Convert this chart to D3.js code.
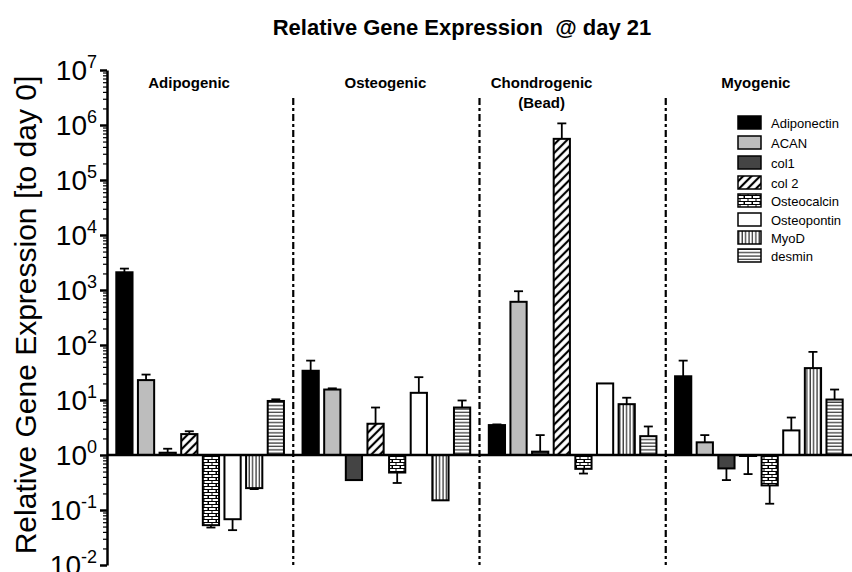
<!DOCTYPE html>
<html>
<head>
<meta charset="utf-8">
<script src="https://cdn.jsdelivr.net/npm/d3@7"></script>
<style>
body { margin: 0; background: #fff; }
text { font-family: "Liberation Sans", Arial, sans-serif; }
</style>
</head>
<body>
<svg id="chart" width="852" height="572"></svg>
<script>
// relative gene expression at day 21, grouped by differentiation medium
var groups = ['Adipogenic', 'Osteogenic', 'Chondrogenic', 'Myogenic']
var genes = ['Adiponectin', 'ACAN', 'col1', 'col 2', 'Osteocalcin', 'Osteopontin', 'MyoD', 'desmin']

// mean values, one array per group, in gene order
var adipogenic = [2100, 23, 1.1, 2.4, 0.053, 0.068, 0.25, 9.6]
var osteogenic = [34, 15.5, 0.35, 3.7, 0.48, 13.5, 0.15, 7.3]
var chondrogenic = [3.5, 610, 1.15, 560000, 0.56, 20, 8.4, 2.2]
var myogenic = [27, 1.7, 0.57, 0.96, 0.28, 2.8, 38, 10.2]

// end of the error bar (above for up, below for down), null = no bar
var adipogenicErr = [2450, 29, 1.3, 2.7, 0.048, 0.043, 0.24, 10.3]
var osteogenicErr = [52, 16.3, null, 7.3, 0.31, 26, null, 9.8]
var chondrogenicErr = [3.6, 950, 2.3, 1070000, 0.46, null, 11, 3.3]
var myogenicErr = [52, 2.3, 0.35, 0.45, 0.13, 4.8, 75, 15.5]

var values = [adipogenic, osteogenic, chondrogenic, myogenic]
var errors = [adipogenicErr, osteogenicErr, chondrogenicErr, myogenicErr]

var svg = d3.select('#chart')
var plotLeft = 107
var plotRight = 852
var plotTop = 70
var plotBottom = 565

var y = d3.scaleLog().domain([1e-2, 1e7]).range([plotBottom, plotTop])
var x0 = d3.scaleBand().domain(groups).range([plotLeft, plotRight])
var x1 = d3.scaleBand().domain(genes).range([0, x0.bandwidth()])
  .paddingInner(0.25).paddingOuter(0.43)

// fills and patterns
var defs = svg.append('defs')
var hatch = defs.append('pattern').attr('id', 'diag')
  .attr('patternUnits', 'userSpaceOnUse').attr('width', 6).attr('height', 6)
  .attr('patternTransform', 'rotate(45)')
hatch.append('rect').attr('width', 6).attr('height', 6).attr('fill', '#fff')
hatch.append('line').attr('x1', 2).attr('x2', 2).attr('y1', 0).attr('y2', 6)
  .attr('stroke', '#000').attr('stroke-width', 2.2)

var vert = defs.append('pattern').attr('id', 'vert')
  .attr('patternUnits', 'userSpaceOnUse').attr('width', 3.4).attr('height', 4)
vert.append('rect').attr('width', 3.4).attr('height', 4).attr('fill', '#fff')
vert.append('line').attr('x1', 1).attr('x2', 1).attr('y1', 0).attr('y2', 4)
  .attr('stroke', '#000').attr('stroke-width', 1)

var horiz = defs.append('pattern').attr('id', 'horiz')
  .attr('patternUnits', 'userSpaceOnUse').attr('width', 4).attr('height', 3.4)
horiz.append('rect').attr('width', 4).attr('height', 3.4).attr('fill', '#fff')
horiz.append('line').attr('x1', 0).attr('x2', 4).attr('y1', 1).attr('y2', 1)
  .attr('stroke', '#000').attr('stroke-width', 1)

var brick = defs.append('pattern').attr('id', 'brick')
  .attr('patternUnits', 'userSpaceOnUse').attr('width', 8).attr('height', 6)
brick.append('rect').attr('width', 8).attr('height', 6).attr('fill', '#fff')
brick.append('path').attr('d', 'M0,0.5H8M0,3.5H8M4,0.5V3.5M0.5,3.5V6.5M8,3.5V6.5')
  .attr('stroke', '#000').attr('stroke-width', 1).attr('fill', 'none')

var fills = {
  'Adiponectin': '#000',
  'ACAN': '#bdbdbd',
  'col1': '#444',
  'col 2': 'url(#diag)',
  'Osteocalcin': 'url(#brick)',
  'Osteopontin': '#fff',
  'MyoD': 'url(#vert)',
  'desmin': 'url(#horiz)'
}

// title
svg.append('text').attr('x', 462).attr('y', 35)
  .attr('text-anchor', 'middle').style('font-size', '22px').style('font-weight', 'bold')
  .style('white-space', 'pre')
  .text('Relative Gene Expression  @ day 21')

// group headings (chondrogenic sits left of center because of the legend)
var headingShift = { 'Adipogenic': -11, 'Osteogenic': -1, 'Chondrogenic': -31, 'Myogenic': -3 }
groups.forEach(function (g) {
  var cx = x0(g) + x0.bandwidth() / 2 + headingShift[g]
  svg.append('text').attr('x', cx).attr('y', 88)
    .attr('text-anchor', 'middle').style('font-size', '15px').style('font-weight', 'bold')
    .text(g)
})
svg.append('text')
  .attr('x', x0('Chondrogenic') + x0.bandwidth() / 2 + headingShift['Chondrogenic'])
  .attr('y', 108).attr('text-anchor', 'middle')
  .style('font-size', '15px').style('font-weight', 'bold').text('(Bead)')

// dash-dot dividers between groups
groups.slice(1).forEach(function (g) {
  svg.append('line').attr('x1', x0(g)).attr('x2', x0(g))
    .attr('y1', 98).attr('y2', plotBottom)
    .attr('stroke', '#000').attr('stroke-width', 2.2)
    .attr('stroke-dasharray', '7,3,3,3')
})

// bars with one-sided error bars
groups.forEach(function (g, gi) {
  var gx = x0(g)
  genes.forEach(function (gene, i) {
    var v = values[gi][i]
    var e = errors[gi][i]
    var bx = gx + x1(gene)
    var w = x1.bandwidth()
    var y1 = y(1)
    var yv = y(v)
    if (e !== null) {
      var ye = y(e)
      svg.append('line').attr('x1', bx + w / 2).attr('x2', bx + w / 2)
        .attr('y1', yv).attr('y2', ye).attr('stroke', '#000').attr('stroke-width', 1.8)
      svg.append('line').attr('x1', bx + w / 2 - 4.5).attr('x2', bx + w / 2 + 4.5)
        .attr('y1', ye).attr('y2', ye).attr('stroke', '#000').attr('stroke-width', 1.8)
    }
    svg.append('rect')
      .attr('x', bx).attr('width', w)
      .attr('y', Math.min(y1, yv)).attr('height', Math.abs(y1 - yv))
      .attr('fill', fills[gene]).attr('stroke', '#000').attr('stroke-width', 2)
  })
})

// baseline at 10^0
svg.append('line').attr('x1', plotLeft).attr('x2', plotRight)
  .attr('y1', y(1)).attr('y2', y(1)).attr('stroke', '#000').attr('stroke-width', 2.5)

// y axis: minor ticks, then major ticks with superscript labels
var minor = []
for (var p = -2; p < 7; p++) {
  for (var m = 2; m < 10; m++) minor.push(m * Math.pow(10, p))
}
var majors = d3.range(-2, 8)

svg.append('g').attr('transform', 'translate(' + plotLeft + ',0)')
  .call(d3.axisLeft(y).tickValues(minor).tickSize(4).tickFormat(''))
  .call(function (a) {
    a.select('.domain').remove()
    a.selectAll('line').attr('stroke-width', 1.2)
  })

var yAxis = svg.append('g').attr('transform', 'translate(' + plotLeft + ',0)')
  .call(d3.axisLeft(y).tickValues(majors.map(function (p) { return Math.pow(10, p) }))
    .tickSize(7).tickSizeOuter(0).tickFormat(''))
yAxis.select('.domain').attr('stroke-width', 2.5)
yAxis.selectAll('line').attr('stroke-width', 2.5)

majors.forEach(function (p) {
  var t = svg.append('text').attr('x', 97).attr('y', y(Math.pow(10, p)) + 10)
    .attr('text-anchor', 'end').style('font-size', '28px')
  t.append('tspan').text('10')
  t.append('tspan').attr('dy', -12).style('font-size', '18px').text(p)
})

svg.append('text')
  .attr('transform', 'translate(36,315) rotate(-90)')
  .attr('text-anchor', 'middle').style('font-size', '30px')
  .text('Relative Gene Expression [to day 0]')

// legend
var legendRows = [123, 143, 163, 183, 201, 220, 238, 256]
genes.forEach(function (gene, i) {
  var ly = legendRows[i]
  svg.append('rect').attr('x', 738).attr('y', ly - 7).attr('width', 23).attr('height', 13)
    .attr('fill', fills[gene]).attr('stroke', '#000').attr('stroke-width', 1.5)
  svg.append('text').attr('x', 771).attr('y', ly + 5)
    .style('font-size', '13px').text(gene)
})
</script>
</body>
</html>
